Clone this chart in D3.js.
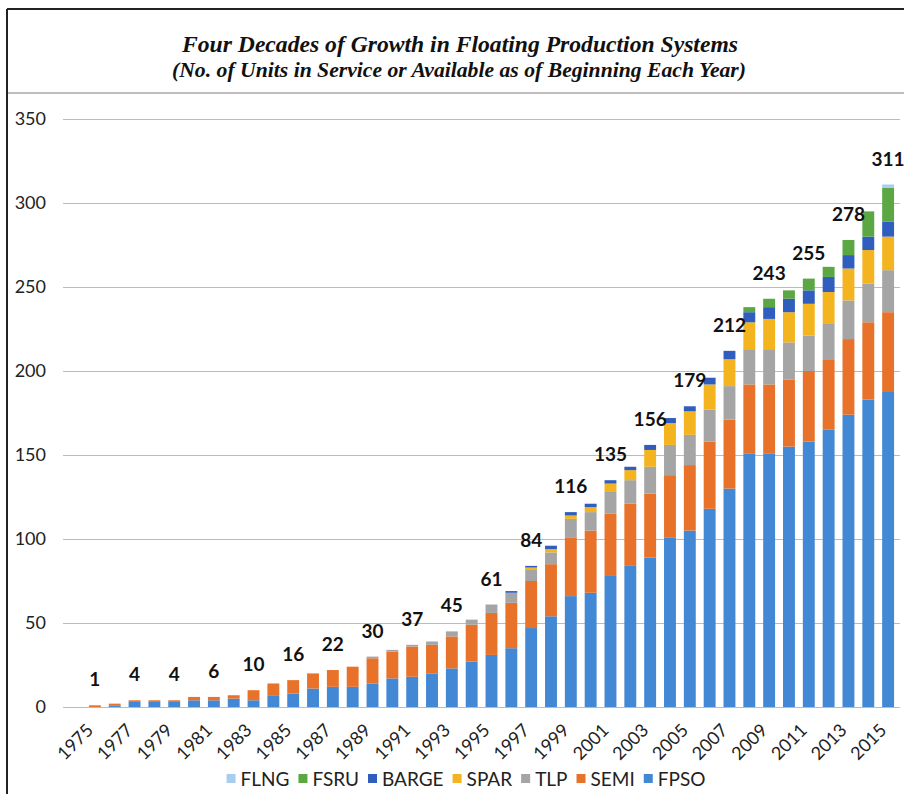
<!DOCTYPE html>
<html>
<head>
<meta charset="utf-8">
<script src="https://cdn.jsdelivr.net/npm/d3@7"></script>
<style>
  html, body { margin: 0; padding: 0; background: #fff; }
  svg { display: block; }
</style>
</head>
<body>
<svg id="chart" width="904" height="794"></svg>
<script>
// Units in service at the start of each year, by platform type
const years = d3.range(1975, 2016);
const FPSO  = [0,1,3,3,3,4,4,5,4,7,8,11,12,12,14,17,18,20,23,27,31,35,47,54,66,68,78,84,89,101,105,118,130,151,151,155,158,165,174,183,188];
const SEMI  = [1,1,1,1,1,2,2,2,6,7,8,9,10,12,15,16,18,17,19,22,25,27,28,31,35,37,37,37,38,37,39,40,41,41,41,40,42,42,45,46,47];
const TLP   = [0,0,0,0,0,0,0,0,0,0,0,0,0,0,1,1,1,2,3,3,5,6,7,7,11,11,13,14,16,18,18,19,20,21,21,22,21,21,23,23,25];
const SPAR  = [0,0,0,0,0,0,0,0,0,0,0,0,0,0,0,0,0,0,0,0,0,0,1,2,2,3,5,6,10,13,14,15,16,16,18,18,19,19,19,20,20];
const BARGE = [0,0,0,0,0,0,0,0,0,0,0,0,0,0,0,0,0,0,0,0,0,1,1,2,2,2,2,2,3,3,3,4,5,6,7,8,8,9,8,8,9];
const FSRU  = [0,0,0,0,0,0,0,0,0,0,0,0,0,0,0,0,0,0,0,0,0,0,0,0,0,0,0,0,0,0,0,0,0,3,5,5,7,6,9,15,20];
const FLNG  = [0,0,0,0,0,0,0,0,0,0,0,0,0,0,0,0,0,0,0,0,0,0,0,0,0,0,0,0,0,0,0,0,0,0,0,0,0,0,0,0,2];

const seriesKeys = ["FPSO", "SEMI", "TLP", "SPAR", "BARGE", "FSRU", "FLNG"];
const legendKeys = ["FLNG", "FSRU", "BARGE", "SPAR", "TLP", "SEMI", "FPSO"];
const yTicks = [0, 50, 100, 150, 200, 250, 300, 350];
const xTickYears = years.filter(y => y % 2 === 1);

const colors = {
  FPSO: "#4288d4", SEMI: "#e9722a", TLP: "#a5a5a5", SPAR: "#f4b420",
  BARGE: "#2f5ebf", FSRU: "#5ba744", FLNG: "#a8cdef"
};

const values = { FPSO, SEMI, TLP, SPAR, BARGE, FSRU, FLNG };
const rows = years.map((yr, i) => {
  const r = { year: yr };
  seriesKeys.forEach(k => r[k] = values[k][i]);
  r.total = d3.sum(seriesKeys, k => r[k]);
  return r;
});

const svg = d3.select("#chart");
const bodyFont = "Lato, 'Open Sans', sans-serif";

// outer frame and title divider
svg.append("line").attr("x1", 7).attr("x2", 904).attr("y1", 9).attr("y2", 9)
  .attr("stroke", "#222").attr("stroke-width", 2);
svg.append("line").attr("x1", 7).attr("x2", 7).attr("y1", 9).attr("y2", 794)
  .attr("stroke", "#222").attr("stroke-width", 2);
svg.append("line").attr("x1", 8).attr("x2", 904).attr("y1", 93).attr("y2", 93)
  .attr("stroke", "#a8a8a8").attr("stroke-width", 1.5);

// title
svg.append("text").attr("x", 460).attr("y", 52)
  .attr("text-anchor", "middle")
  .attr("font-family", "'Liberation Serif', 'Times New Roman', serif")
  .attr("font-weight", "bold").attr("font-style", "italic")
  .attr("font-size", 23).attr("fill", "#111")
  .attr("textLength", 556).attr("lengthAdjust", "spacingAndGlyphs")
  .text("Four Decades of Growth in Floating Production Systems");
svg.append("text").attr("x", 459).attr("y", 77)
  .attr("text-anchor", "middle")
  .attr("font-family", "'Liberation Serif', 'Times New Roman', serif")
  .attr("font-weight", "bold").attr("font-style", "italic")
  .attr("font-size", 20).attr("fill", "#111")
  .attr("textLength", 574).attr("lengthAdjust", "spacingAndGlyphs")
  .text("(No. of Units in Service or Available as of Beginning Each Year)");

// scales
const plotLeft = 63, plotRight = 900;
const y = d3.scaleLinear().domain([0, 350]).range([707, 119]);
const x = d3.scaleBand().domain(years).range([81, 902]).padding(0.4);

// y gridlines and labels
const yAxis = svg.append("g")
  .attr("transform", `translate(${plotLeft},0)`)
  .call(d3.axisLeft(y).tickValues(yTicks).tickSize(-(plotRight - plotLeft)).tickPadding(17));
yAxis.select(".domain").remove();
yAxis.selectAll(".tick line").attr("stroke", "#c4b9b1").attr("stroke-width", 1.2);
yAxis.selectAll(".tick text")
  .attr("font-family", bodyFont).attr("font-size", 18).attr("fill", "#222");

// stacked bars
const stacked = d3.stack().keys(seriesKeys)(rows);
svg.append("g").selectAll("g")
  .data(stacked)
  .join("g")
  .attr("fill", d => colors[d.key])
  .selectAll("rect")
  .data(d => d.filter(s => s[1] > s[0]))
  .join("rect")
  .attr("x", d => x(d.data.year))
  .attr("width", x.bandwidth())
  .attr("y", d => y(d[1]))
  .attr("height", d => y(d[0]) - y(d[1]));

// totals above every other year
svg.append("g").selectAll("text")
  .data(rows.filter(r => r.year % 2 === 1))
  .join("text")
  .attr("x", d => x(d.year) + x.bandwidth() / 2)
  .attr("y", d => y(d.total) - 19)
  .attr("text-anchor", "middle")
  .attr("font-family", bodyFont).attr("font-weight", "bold")
  .attr("font-size", 19).attr("fill", "#111")
  .text(d => d.total);

// x axis labels, rotated
const xAxis = svg.append("g")
  .attr("transform", "translate(0,707)")
  .call(d3.axisBottom(x).tickValues(xTickYears).tickSize(0).tickPadding(0));
xAxis.select(".domain").remove();
xAxis.selectAll(".tick text")
  .attr("font-family", bodyFont).attr("font-size", 18).attr("fill", "#222")
  .attr("text-anchor", "end")
  .attr("dy", "0.35em")
  .attr("transform", "translate(-5,20) rotate(-45)");

// legend
const legend = svg.append("g").attr("transform", "translate(0,779)");
const items = legend.selectAll("g").data(legendKeys).join("g");
items.append("rect").attr("width", 9).attr("height", 9).attr("y", -5)
  .attr("fill", d => colors[d]);
items.append("text").attr("x", 14).attr("dy", "0.35em")
  .attr("font-family", bodyFont).attr("font-size", 19).attr("fill", "#222")
  .text(d => d);
const widths = [];
items.each(function () {
  widths.push(14 + this.querySelector("text").getComputedTextLength());
});
const gap = 9;
const totalW = d3.sum(widths) + gap * (widths.length - 1);
let cursor = 466 - totalW / 2;
items.attr("transform", (d, i) => {
  const t = `translate(${cursor},0)`;
  cursor += widths[i] + gap;
  return t;
});
</script>
</body>
</html>
